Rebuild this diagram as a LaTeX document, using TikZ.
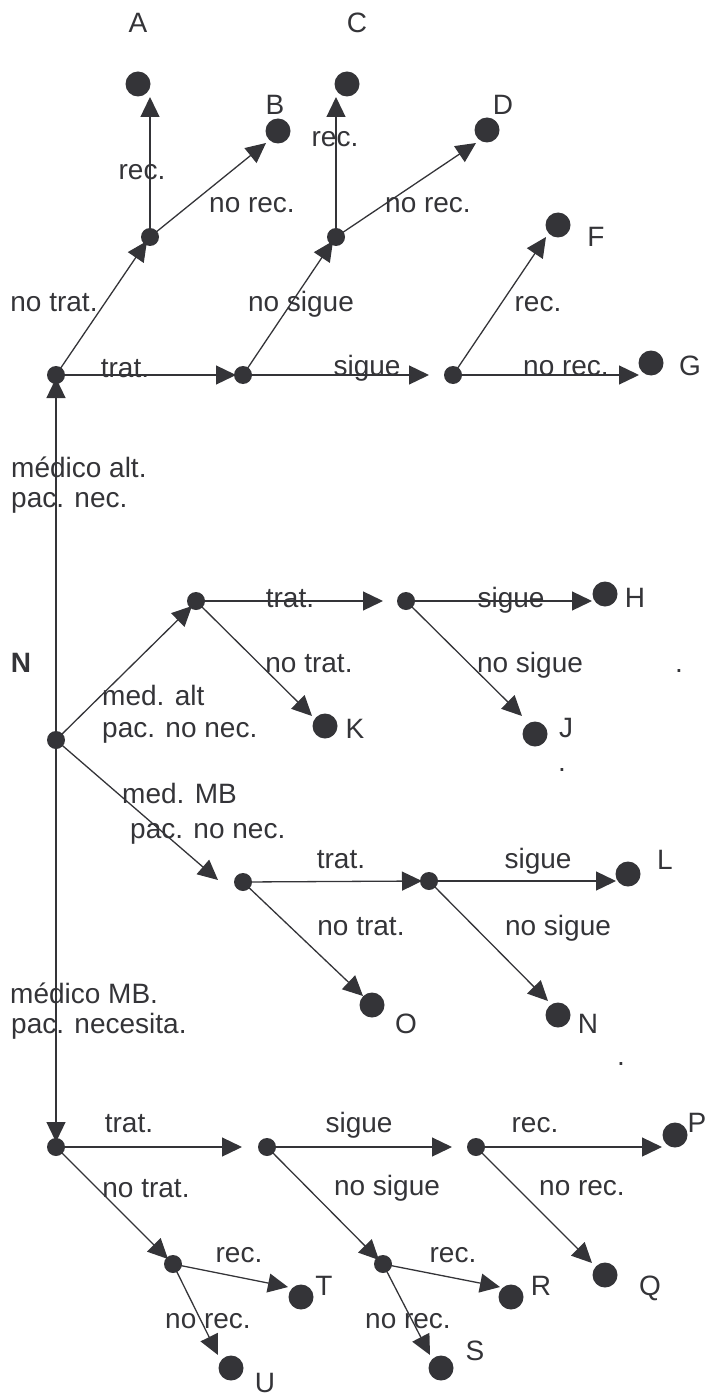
\documentclass[tikz,border=0pt]{standalone}
\usepackage{fontspec}
\setmainfont{Liberation Sans}
\usetikzlibrary{arrows.meta}
\definecolor{ink}{RGB}{52,52,56}
\begin{document}
\begin{tikzpicture}[x=1pt,y=-1pt,
  small/.style={circle,fill=ink,inner sep=0,minimum size=18pt},
  big/.style={circle,fill=ink,inner sep=0,minimum size=25pt},
  arr/.style={draw=ink,line width=1.3pt,-{Triangle[length=20pt,width=19pt]}},
  lbl/.style={inner sep=0,anchor=base,text=ink,font=\fontsize{28}{33}\selectfont},
  lblw/.style={lbl,anchor=base west}]
\useasboundingbox (0,0) rectangle (706,1396);
% ---------- decision / chance points ----------
\node[small] (r1) at (56,375) {};
\node[small] (a1) at (150,237) {};
\node[small] (b1) at (243,375) {};
\node[small] (c1) at (336,237) {};
\node[small] (d1) at (453,375) {};
\node[small] (n0) at (56,740) {};
\node[small] (e1) at (196,601) {};
\node[small] (f1) at (406,601) {};
\node[small] (g1) at (243,882) {};
\node[small] (h1) at (429,881) {};
\node[small] (i1) at (56,1147) {};
\node[small] (j1) at (267,1147) {};
\node[small] (k1) at (476,1147) {};
\node[small] (l1) at (383,1264) {};
\node[small] (m1) at (173,1264) {};
% ---------- end points ----------
\node[big] (eA) at (138,84) {};
\node[big] (eB) at (278,131) {};
\node[big] (eC) at (347,84) {};
\node[big] (eD) at (487,130) {};
\node[big] (eF) at (558,225) {};
\node[big] (eG) at (651,363) {};
\node[big] (eH) at (605,594) {};
\node[big] (eK) at (325,726) {};
\node[big] (eJ) at (535,734) {};
\node[big] (eL) at (628,874) {};
\node[big] (eO) at (372,1005) {};
\node[big] (eN) at (558,1015) {};
\node[big] (eP) at (675,1135) {};
\node[big] (eQ) at (605,1275) {};
\node[big] (eR) at (511,1297) {};
\node[big] (eS) at (441,1368) {};
\node[big] (eT) at (301,1297) {};
\node[big] (eU) at (231,1368) {};
% ---------- arrow tips ----------
\coordinate (tA1) at (147,241);
\coordinate (tA) at (150,97);
\coordinate (tB) at (266,143);
\coordinate (tB1) at (236,375);
\coordinate (tC1) at (333,241);
\coordinate (tC) at (336,97);
\coordinate (tD) at (476,143);
\coordinate (tSig) at (429,375);
\coordinate (tF) at (546,237);
\coordinate (tG) at (639,375);
\coordinate (tR1) at (56,378);
\coordinate (tE1) at (192,606);
\coordinate (tTr2) at (383,601);
\coordinate (tH) at (592,601);
\coordinate (tK) at (312,716);
\coordinate (tJ) at (522,716);
\coordinate (tG1) at (218,880);
\coordinate (tH1) at (422,881);
\coordinate (tL) at (616,881);
\coordinate (tO) at (363,996);
\coordinate (tN) at (548,1001);
\coordinate (tI1) at (56,1142);
\coordinate (tTr3) at (242,1147);
\coordinate (tSig3) at (452,1147);
\coordinate (tP) at (662,1147);
\coordinate (tQ) at (592,1263);
\coordinate (tL1) at (379,1260);
\coordinate (tR) at (500,1287);
\coordinate (tS) at (430,1355);
\coordinate (tM1) at (168,1259);
\coordinate (tT) at (288,1287);
\coordinate (tU) at (218,1355);
% ---------- connectors ----------
\draw[arr] (r1.center) -- (tA1);
\draw[arr] (a1.center) -- (tA);
\draw[arr] (a1.center) -- (tB);
\draw[arr] (r1.center) -- (tB1);
\draw[arr] (b1.center) -- (tC1);
\draw[arr] (c1.center) -- (tC);
\draw[arr] (c1.center) -- (tD);
\draw[arr] (b1.center) -- (tSig);
\draw[arr] (d1.center) -- (tF);
\draw[arr] (d1.center) -- (tG);
\draw[arr] (n0.center) -- (tR1);
\draw[arr] (n0.center) -- (tE1);
\draw[arr] (e1.center) -- (tTr2);
\draw[arr] (f1.center) -- (tH);
\draw[arr] (e1.center) -- (tK);
\draw[arr] (f1.center) -- (tJ);
\draw[arr] (n0.center) -- (tG1);
\draw[arr] (g1.center) -- (tH1);
\draw[arr] (h1.center) -- (tL);
\draw[arr] (g1.center) -- (tO);
\draw[arr] (h1.center) -- (tN);
\draw[arr] (n0.center) -- (tI1);
\draw[arr] (i1.center) -- (tTr3);
\draw[arr] (j1.center) -- (tSig3);
\draw[arr] (k1.center) -- (tP);
\draw[arr] (k1.center) -- (tQ);
\draw[arr] (j1.center) -- (tL1);
\draw[arr] (l1.center) -- (tR);
\draw[arr] (l1.center) -- (tS);
\draw[arr] (i1.center) -- (tM1);
\draw[arr] (m1.center) -- (tT);
\draw[arr] (m1.center) -- (tU);
% ---------- end-point letters ----------
\node[lbl] (LA) at (138,33) {A};
\node[lbl] (LB) at (275,115) {B};
\node[lbl] (LC) at (357,33) {C};
\node[lbl] (LD) at (503,115) {D};
\node[lbl] (LF) at (596,247) {F};
\node[lbl] (LG) at (690,375) {G};
\node[lbl] (LH) at (635,607) {H};
\node[lbl] (LK) at (355,738) {K};
\node[lbl] (LJ) at (566,737) {J};
\node[lbl] (LL) at (665,869) {L};
\node[lbl] (LO) at (406,1033) {O};
\node[lbl] (LN) at (588,1033) {N};
\node[lbl] (LP) at (697,1132) {P};
\node[lbl] (LQ) at (650,1295) {Q};
\node[lbl] (LR) at (541,1295) {R};
\node[lbl] (LS) at (475,1360) {S};
\node[lbl] (LT) at (324,1295) {T};
\node[lbl] (LU) at (265,1392) {U};
\node[lbl,font=\fontsize{28}{33}\selectfont\bfseries] (LNN) at (21,672) {N};
\node[lbl] (p1) at (679,672) {.};
\node[lbl] (p2) at (562,771) {.};
\node[lbl] (p3) at (621,1065) {.};
% ---------- branch labels ----------
\node[lbl] (l01) at (142,180) {rec.};
\node[lbl] (l02) at (252,213) {no rec.};
\node[lbl] (l03) at (54,312) {no trat.};
\node[lbl] (l04) at (125,377) {trat.};
\node[lbl] (l05) at (301,312) {no sigue};
\node[lbl] (l06) at (335,147) {rec.};
\node[lbl] (l07) at (428,213) {no rec.};
\node[lbl] (l08) at (538,312) {rec.};
\node[lbl] (l09) at (566,375) {no rec.};
\node[lbl] (l10) at (367,375) {sigue};
\node[lblw] (l11) at (11,477) {médico alt.};
\node[lblw] (l12) at (11,507) {pac. nec.};
\node[lblw] (l13) at (102,705) {med. alt};
\node[lblw] (l14) at (102,737) {pac. no nec.};
\node[lbl] (l15) at (290,607) {trat.};
\node[lbl] (l16) at (309,672) {no trat.};
\node[lbl] (l17) at (511,607) {sigue};
\node[lbl] (l18) at (530,672) {no sigue};
\node[lblw] (l19) at (122,803) {med. MB};
\node[lblw] (l20) at (130,838) {pac. no nec.};
\node[lbl] (l21) at (341,868) {trat.};
\node[lbl] (l22) at (538,868) {sigue};
\node[lbl] (l23) at (361,935) {no trat.};
\node[lbl] (l24) at (558,935) {no sigue};
\node[lblw] (l25) at (10,1003) {médico MB.};
\node[lblw] (l26) at (11,1033) {pac. necesita.};
\node[lbl] (l27) at (129,1132) {trat.};
\node[lbl] (l28) at (359,1132) {sigue};
\node[lbl] (l29) at (535,1132) {rec.};
\node[lbl] (l30) at (146,1197) {no trat.};
\node[lbl] (l31) at (387,1195) {no sigue};
\node[lbl] (l32) at (582,1195) {no rec.};
\node[lbl] (l33) at (239,1262) {rec.};
\node[lbl] (l34) at (453,1262) {rec.};
\node[lbl] (l35) at (208,1328) {no rec.};
\node[lbl] (l36) at (408,1328) {no rec.};
\end{tikzpicture}
\end{document}
